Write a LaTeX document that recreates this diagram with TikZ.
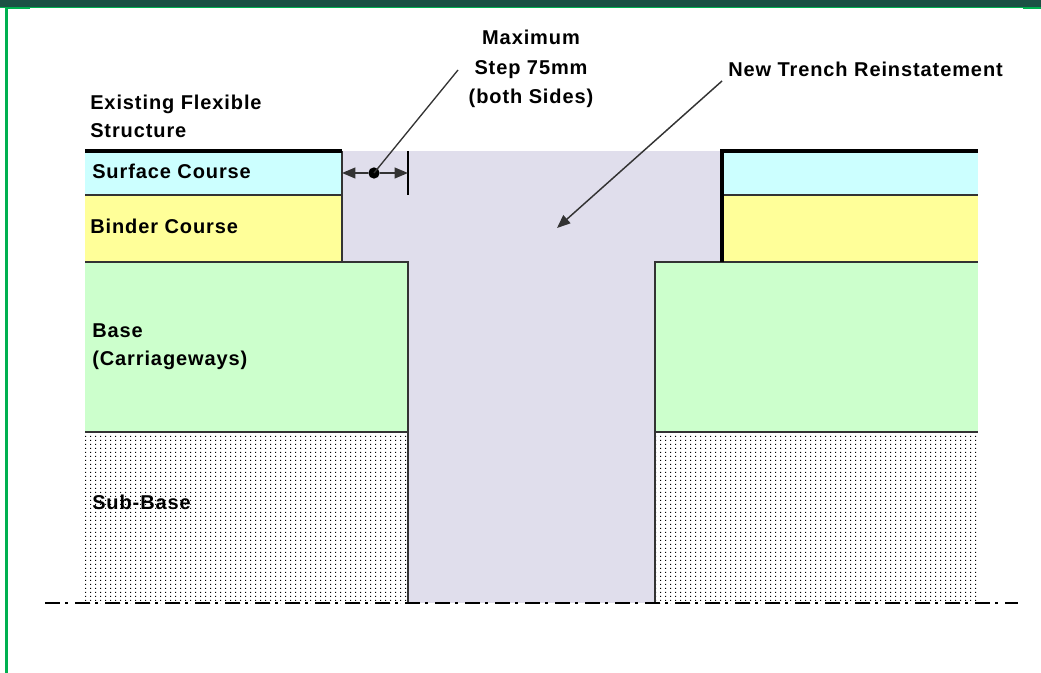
\documentclass[tikz,border=0pt]{standalone}
\usepackage{fontspec}
\newfontfamily\lab[LetterSpace=4.5]{Liberation Sans}
\usetikzlibrary{arrows.meta,patterns.meta}
\definecolor{band}{RGB}{27,80,68}
\definecolor{frgreen}{RGB}{0,176,80}
\definecolor{surf}{RGB}{204,255,255}
\definecolor{bind}{RGB}{255,255,153}
\definecolor{basec}{RGB}{204,255,204}
\definecolor{trench}{RGB}{224,222,236}
\tikzdeclarepattern{
  name=sbdots,
  type=uncolored,
  bounding box={(0pt,0pt) and (3.75pt,3pt)},
  tile size={(3.75pt,3pt)},
  code={\pgfpathrectangle{\pgfpointorigin}{\pgfpoint{0.95pt}{0.95pt}}\pgfusepath{fill}}
}
\tikzset{
  lbl/.style={font=\lab\bfseries\fontsize{15}{21}\selectfont, inner sep=0pt, anchor=west, align=left},
  thin/.style={draw=black!80, line width=1.1pt},
  thick/.style={draw=black, line width=2.6pt},
  tip/.style={-{Triangle[length=10pt,width=8pt]}},
}
\begin{document}
\begin{tikzpicture}[x=0.75pt,y=-0.75pt]
\useasboundingbox (0,0) rectangle (1041,673);
% frame
\fill[band] (0,0) rectangle (1041,7);
\fill[frgreen] (0,7) rectangle (1041,8);
\fill[frgreen] (5,7) rectangle (7.5,673);
\fill[frgreen] (5,7) rectangle (30,9);
\fill[frgreen] (1023,7) rectangle (1041,9.5);
% trench
\fill[trench] (342,151) rectangle (722,262);
\fill[trench] (408,262) rectangle (655,603);
% left block
\fill[surf] (85,151) rectangle (342,195);
\fill[bind] (85,195) rectangle (342,262);
\fill[basec] (85,262) rectangle (408,432);
\fill[pattern=sbdots, pattern color=black] (85,432) rectangle (408,603);
% right block
\fill[surf] (722,151) rectangle (978,195);
\fill[bind] (722,195) rectangle (978,262);
\fill[basec] (655,262) rectangle (978,432);
\fill[pattern=sbdots, pattern color=black] (655,432) rectangle (978,603);
% outlines left
\draw[thin] (85,195) -- (342,195);
\draw[thin] (342,151) -- (342,262);
\draw[thin] (85,262) -- (408,262) -- (408,603);
\draw[thin] (85,432) -- (408,432);
% outlines right
\draw[thin] (722,195) -- (978,195);
\draw[thin] (655,603) -- (655,262) -- (978,262);
\draw[thin] (655,432) -- (978,432);
\draw[thick] (85,151) -- (342,151);
\draw[thick] (722,262) -- (722,151) -- (978,151);
% dimension
\draw[black, line width=1pt] (408,151) -- (408,195);
\coordinate (dl) at (342,173);
\coordinate (dr) at (408,173);
\node[circle, fill=black, inner sep=0pt, minimum size=8.5pt] (dot) at (374,173) {};
\draw[black!80, line width=1.5pt, tip] (dot) -- (dl);
\draw[black!80, line width=1.5pt, tip] (dot) -- (dr);
% ground line
\draw[black, line width=2.2pt, dash pattern=on 11pt off 4pt on 2.5pt off 5pt] (45,603) -- (1018,603);
% labels
\node[lbl] (exist) at (90,116) {Existing Flexible\\Structure};
\node[lbl] (surface) at (92,171) {Surface Course};
\node[lbl] (binder) at (90,226) {Binder Course};
\node[lbl] (base) at (92,347) {Base\\(Carriageways)};
\node[lbl] (sub) at (92,502) {Sub-Base};
\node[lbl, anchor=center, align=center, font=\lab\bfseries\fontsize{15}{22}\selectfont] (maxstep) at (531,69) {Maximum\\Step 75mm\\(both Sides)};
\node[lbl] (newtrench) at (728,69) {New Trench Reinstatement};
% leaders
\coordinate (mlead) at (458,70);
\draw[black!80, line width=1pt] (dot.center) -- (mlead);
\coordinate (ntstart) at (722,81);
\coordinate (ntend) at (557,228);
\draw[black!80, line width=1.1pt, tip] (ntstart) -- (ntend);
\end{tikzpicture}
\end{document}
